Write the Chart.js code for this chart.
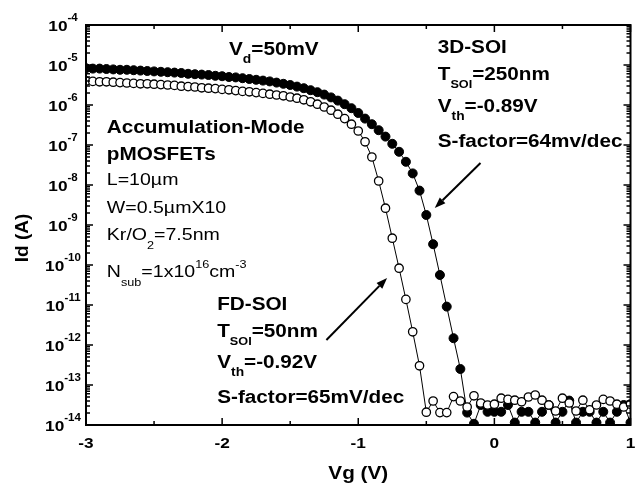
<!DOCTYPE html>
<html>
<head>
<meta charset="utf-8">
<script src="https://cdn.jsdelivr.net/npm/chart.js@4.4.0/dist/chart.umd.min.js"></script>
<style>
  html, body { margin:0; padding:0; background:#fff; }
</style>
</head>
<body>
<canvas id="idvg" width="636" height="487"></canvas>
<script>
/* Id-Vg of accumulation-mode pMOSFETs, 3D-SOI vs FD-SOI (log10 of Id in A) */

// gate voltage, V
const vg = [
  -3.00,-2.95,-2.90,-2.85,-2.80,-2.75,-2.70,-2.65,-2.60,-2.55,
  -2.50,-2.45,-2.40,-2.35,-2.30,-2.25,-2.20,-2.15,-2.10,-2.05,
  -2.00,-1.95,-1.90,-1.85,-1.80,-1.75,-1.70,-1.65,-1.60,-1.55,
  -1.50,-1.45,-1.40,-1.35,-1.30,-1.25,-1.20,-1.15,-1.10,-1.05,
  -1.00,-0.95,-0.90,-0.85,-0.80,-0.75,-0.70,-0.65,-0.60,-0.55,
  -0.50,-0.45,-0.40,-0.35,-0.30,-0.25,-0.20,-0.15,-0.10,-0.05,
   0.00, 0.05, 0.10, 0.15, 0.20, 0.25, 0.30, 0.35, 0.40, 0.45,
   0.50, 0.55, 0.60, 0.65, 0.70, 0.75, 0.80, 0.85, 0.90, 0.95,
   1.00
];

// 3D-SOI, T_SOI=250nm (filled circles), log10(Id)
const logId3D = [
  -5.08,-5.09,-5.09,-5.10,-5.11,-5.12,-5.12,-5.13,-5.14,-5.15,
  -5.16,-5.17,-5.18,-5.19,-5.20,-5.22,-5.23,-5.24,-5.25,-5.27,
  -5.28,-5.30,-5.31,-5.33,-5.35,-5.37,-5.39,-5.41,-5.44,-5.47,
  -5.50,-5.54,-5.58,-5.63,-5.68,-5.74,-5.81,-5.89,-5.98,-6.08,
  -6.20,-6.34,-6.48,-6.63,-6.79,-6.97,-7.17,-7.42,-7.71,-8.14,
  -8.75,-9.48,-10.25,-11.04,-11.83,-12.60,-13.69,-13.97,-13.50,-13.67,
  -13.67,-13.67,-13.50,-13.94,-13.67,-13.67,-13.94,-13.67,-13.50,-13.94,
  -13.67,-13.39,-13.94,-13.67,-13.67,-13.94,-13.67,-13.94,-13.67,-13.50,
  -13.94
];

// FD-SOI, T_SOI=50nm (open circles), log10(Id)
const logIdFD = [
  -5.40,-5.41,-5.42,-5.42,-5.43,-5.44,-5.45,-5.46,-5.47,-5.47,
  -5.48,-5.49,-5.50,-5.51,-5.53,-5.54,-5.55,-5.57,-5.58,-5.59,
  -5.61,-5.62,-5.64,-5.66,-5.67,-5.69,-5.71,-5.73,-5.75,-5.77,
  -5.80,-5.83,-5.87,-5.92,-5.98,-6.05,-6.13,-6.23,-6.34,-6.48,
  -6.65,-6.92,-7.30,-7.90,-8.58,-9.33,-10.08,-10.86,-11.67,-12.52,
  -13.68,-13.40,-13.69,-13.69,-13.29,-13.40,-13.55,-13.27,-13.45,-13.50,
  -13.48,-13.33,-13.36,-13.38,-13.42,-13.30,-13.25,-13.38,-13.50,-13.65,
  -13.33,-13.45,-13.65,-13.38,-13.62,-13.50,-13.36,-13.40,-13.48,-13.55,
  -13.48
];

const xTicks   = [-3, -2, -1, 0, 1];
const xMinor   = [-2.5, -1.5, -0.5, 0.5];
const yTickExp = [-14, -13, -12, -11, -10, -9, -8, -7, -6, -5, -4];

const FONT = '"Liberation Sans", Arial, sans-serif';
const SX = 1.15;   // scan is a bit wide

function partsWidth(ctx, parts, size, weight) {
  let w = 0;
  for (const p of parts) {
    const o = typeof p === 'string' ? { t:p } : p;
    ctx.font = `${weight} ${o.fs || size}px ${FONT}`;
    w += ctx.measureText(o.t).width * SX;
  }
  return w;
}

function drawParts(ctx, x, y, parts, size, weight) {
  let cx = x;
  for (const p of parts) {
    const o = typeof p === 'string' ? { t:p } : p;
    ctx.font = `${weight} ${o.fs || size}px ${FONT}`;
    ctx.save();
    ctx.translate(cx, y + (o.dy || 0));
    ctx.scale(SX, 1);
    ctx.fillText(o.t, 0, 0);
    ctx.restore();
    cx += ctx.measureText(o.t).width * SX;
  }
}

function arrow(ctx, x1, y1, x2, y2) {
  const ang = Math.atan2(y2 - y1, x2 - x1), len = 11, half = 4;
  const bx = x2 - len * Math.cos(ang), by = y2 - len * Math.sin(ang);
  ctx.lineWidth = 2;
  ctx.beginPath(); ctx.moveTo(x1, y1); ctx.lineTo(bx, by); ctx.stroke();
  ctx.beginPath();
  ctx.moveTo(x2, y2);
  ctx.lineTo(bx + half * Math.sin(ang), by - half * Math.cos(ang));
  ctx.lineTo(bx - half * Math.sin(ang), by + half * Math.cos(ang));
  ctx.closePath(); ctx.fill();
}

const sub = (t, fs, dy) => ({ t, fs, dy });

const notes = [
  { v:-1.949, l:-4.75,  w:'bold',   s:18, p:['V', sub('d',12,8), '=50mV'] },
  { v:-0.416, l:-4.70,  w:'bold',   s:18, p:['3D-SOI'] },
  { v:-0.416, l:-5.375, w:'bold',   s:18, p:['T', sub('SOI',11,8), '=250nm'] },
  { v:-0.416, l:-6.175, w:'bold',   s:18, p:['V', sub('th',12,8), '=-0.89V'] },
  { v:-0.416, l:-7.05,  w:'bold',   s:18, p:['S-factor=64mv/dec'] },
  { v:-2.847, l:-6.70,  w:'bold',   s:18, p:['Accumulation-Mode'] },
  { v:-2.847, l:-7.375, w:'bold',   s:18, p:['pMOSFETs'] },
  { v:-2.847, l:-8.00,  w:'normal', s:17, p:['L=10\u00b5m'] },
  { v:-2.847, l:-8.70,  w:'normal', s:17, p:['W=0.5\u00b5mX10'] },
  { v:-2.847, l:-9.375, w:'normal', s:17, p:['Kr/O', sub('2',11,9), '=7.5nm'] },
  { v:-2.847, l:-10.30, w:'normal', s:17, p:['N', sub('sub',11,9), '=1x10', sub('16',11,-9), 'cm', sub('-3',11,-9)] },
  { v:-2.036, l:-11.125,w:'bold',   s:18, p:['FD-SOI'] },
  { v:-2.036, l:-11.80, w:'bold',   s:18, p:['T', sub('SOI',11,8), '=50nm'] },
  { v:-2.036, l:-12.575,w:'bold',   s:18, p:['V', sub('th',12,8), '=-0.92V'] },
  { v:-2.036, l:-13.45, w:'bold',   s:18, p:['S-factor=65mV/dec'] }
];

const arrows = [
  [-0.102, -7.45,  -0.438, -8.575],
  [-1.234, -11.875, -0.788, -10.325]
];

const paper = {
  id: 'paper',
  beforeDraw(chart) {
    const c = chart.ctx;
    c.save(); c.fillStyle = '#fff'; c.fillRect(0, 0, chart.width, chart.height); c.restore();
  },
  afterDraw(chart) {
    const { ctx, chartArea: a, scales: { x, y } } = chart;
    ctx.save();
    ctx.strokeStyle = '#000'; ctx.fillStyle = '#000';

    // inward ticks, all four sides
    ctx.lineWidth = 1.5;
    ctx.beginPath();
    for (const e of yTickExp) {
      const py = y.getPixelForValue(e);
      ctx.moveTo(a.left, py); ctx.lineTo(a.left + 7, py);
      ctx.moveTo(a.right, py); ctx.lineTo(a.right - 7, py);
      if (e === -4) continue;
      for (let k = 2; k <= 9; k++) {
        const pm = y.getPixelForValue(e + Math.log10(k));
        ctx.moveTo(a.left, pm); ctx.lineTo(a.left + 4, pm);
        ctx.moveTo(a.right, pm); ctx.lineTo(a.right - 4, pm);
      }
    }
    for (const t of xTicks) {
      const px = x.getPixelForValue(t);
      ctx.moveTo(px, a.bottom); ctx.lineTo(px, a.bottom - 7);
      ctx.moveTo(px, a.top); ctx.lineTo(px, a.top + 7);
    }
    for (const t of xMinor) {
      const px = x.getPixelForValue(t);
      ctx.moveTo(px, a.bottom); ctx.lineTo(px, a.bottom - 4);
      ctx.moveTo(px, a.top); ctx.lineTo(px, a.top + 4);
    }
    ctx.stroke();

    ctx.lineWidth = 2;
    ctx.strokeRect(a.left, a.top, a.right - a.left, a.bottom - a.top);

    // tick labels
    ctx.textBaseline = 'alphabetic';
    for (const e of yTickExp) {
      const py = y.getPixelForValue(e);
      const parts = ['10', { t: String(e), fs: 10, dy: -10 }];
      const w = partsWidth(ctx, parts, 15, 'bold');
      drawParts(ctx, a.left - 23 - w / 2, py + 5.5, parts, 15, 'bold');
    }
    for (const t of xTicks) {
      const parts = [String(t)];
      const w = partsWidth(ctx, parts, 15, 'bold');
      drawParts(ctx, x.getPixelForValue(t) - w / 2, a.bottom + 23, parts, 15, 'bold');
    }

    // axis titles
    const xt = ['Vg (V)'];
    const xw = partsWidth(ctx, xt, 18, 'bold');
    drawParts(ctx, (a.left + a.right) / 2 - xw / 2, a.bottom + 54, xt, 18, 'bold');
    ctx.save();
    ctx.translate(28, 238);
    ctx.rotate(-Math.PI / 2);
    ctx.font = `bold 19px ${FONT}`;
    ctx.textAlign = 'center';
    ctx.fillText('Id (A)', 0, 0);
    ctx.restore();

    // annotations
    for (const n of notes) {
      drawParts(ctx, x.getPixelForValue(n.v), y.getPixelForValue(n.l), n.p, n.s, n.w);
    }
    for (const [v1, l1, v2, l2] of arrows) {
      arrow(ctx, x.getPixelForValue(v1), y.getPixelForValue(l1),
                 x.getPixelForValue(v2), y.getPixelForValue(l2));
    }
    ctx.restore();
  }
};

const pts = arr => vg.map((v, i) => ({ x: v, y: arr[i] }));

new Chart(document.getElementById('idvg'), {
  type: 'scatter',
  data: {
    datasets: [
      { label: 'FD-SOI', data: pts(logIdFD), showLine: true, order: 0,
        borderColor: '#000', borderWidth: 1,
        pointRadius: 4.2, pointBorderWidth: 1.3,
        pointBackgroundColor: '#fff', pointBorderColor: '#000' },
      { label: '3D-SOI', data: pts(logId3D), showLine: true, order: 1,
        borderColor: '#000', borderWidth: 1,
        pointRadius: 4.5, pointBorderWidth: 1,
        pointBackgroundColor: '#000', pointBorderColor: '#000' }
    ]
  },
  options: {
    responsive: false,
    devicePixelRatio: 1,
    animation: false,
    layout: { padding: { left: 86, right: 2, top: 25, bottom: 62 } },
    plugins: { legend: { display: false }, tooltip: { enabled: false } },
    scales: {
      x: { type: 'linear', min: -3, max: 1, display: false },
      y: { type: 'linear', min: -14, max: -4, display: false }
    }
  },
  plugins: [paper]
});
</script>
</body>
</html>
